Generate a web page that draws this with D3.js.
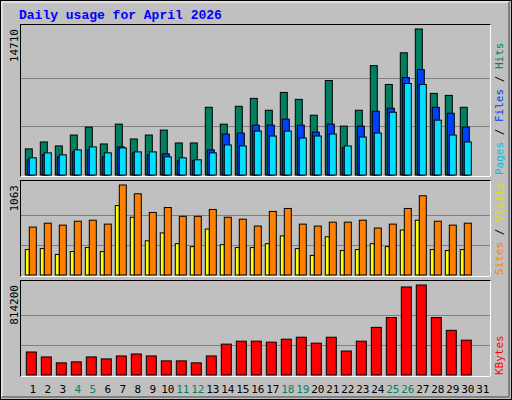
<!DOCTYPE html><html><head><script src="https://cdn.jsdelivr.net/npm/d3@7"></script>
<style>body{margin:0;background:#fff}</style></head><body><svg id="c" width="512" height="400"></svg>
<script>
const days=d3.range(1,32);
const weekend=[4,5,11,12,18,19,25,26];
const hits=[2629,3328,2929,4027,4826,3128,5125,3628,4027,4526,3228,3228,6822,5125,6922,7721,6523,8320,7621,6024,9518,4925,6523,11016,9119,12314,14710,8220,8020,6822];
const files=[1531,2030,1830,2330,2529,1830,2829,2230,2030,2130,1431,1431,2529,4127,4227,5025,5025,5624,5025,4326,5125,2729,4925,6423,6723,9818,10617,6822,6223,4826];
const pages=[1731,2230,2030,2529,2829,2230,2729,2330,2330,1830,1731,1531,2230,3029,2929,4426,3927,4426,3727,3927,4127,2929,3827,4227,6323,9219,9119,5525,4027,3328];
const visits=[566,612,589,635,647,601,1063,959,739,797,693,693,774,682,659,578,751,786,601,578,624,624,647,555,601,786,936,635,589,612];
const sites=[300,312,243,277,324,277,820,682,404,497,370,335,543,358,324,324,370,462,312,231,451,289,300,370,335,531,647,300,289,300];
const kbytes=[208000,163400,109900,118900,163400,145600,172300,190200,172300,127800,127800,109900,172300,279300,306100,306100,297200,323900,341700,288200,341700,216900,306100,430900,520000,796400,814200,520000,404100,315000];
const svg=d3.select("#c");
const F="DejaVu Sans Mono, monospace";
svg.append("rect").attr("x",0.5).attr("y",0.5).attr("width",511).attr("height",399).attr("fill","#c0c0c0").attr("stroke","#000");
svg.append("path").attr("d","M2,397V2H509").attr("fill","none").attr("stroke","#fff");
svg.append("path").attr("d","M2,397H509V2").attr("fill","none").attr("stroke","#808080").attr("stroke-width",2);
svg.append("text").attr("x",19).attr("y",19).attr("font-family","Courier New, Liberation Mono, monospace").attr("font-weight","bold").attr("font-size",13).attr("fill","#0000ff").text("Daily usage for April 2026");
const x=d3.scaleLinear().domain([1,2]).range([25.3,40.3]);
function panel(y0,y1,max,label,series,rlabels){
  svg.append("rect").attr("x",20.5).attr("y",y0+0.5).attr("width",470).attr("height",y1-y0).attr("fill","#c0c0c0").attr("stroke","#000");
  svg.append("path").attr("d",`M20.5,${y1+0.5}H490.5V${y0+0.5}`).attr("fill","none").attr("stroke","#fff");
  const top=y0+5,base=y1-1;
  const y=d3.scaleLinear().domain([0,max]).range([base,top]);
  [1/3,2/3].forEach(f=>svg.append("line").attr("x1",21).attr("x2",490).attr("y1",Math.round(y(max*f))+0.5).attr("y2",Math.round(y(max*f))+0.5).attr("stroke","#808080"));
  series.forEach(s=>{
    svg.append("g").selectAll("rect").data(s.data).join("rect")
      .attr("x",(d,i)=>x(i+1)+s.off).attr("width",s.w)
      .attr("y",d=>y(d)).attr("height",d=>base-y(d))
      .attr("fill",s.color).attr("stroke","#000");
  });
  svg.append("text").attr("transform",`translate(18,${top})rotate(-90)`).attr("text-anchor","end")
    .attr("font-family",F).attr("font-size",11).text(label);
  const t=svg.append("text").attr("transform",`translate(503,${y1-1})rotate(-90)`).attr("font-family",F).attr("font-size",11);
  rlabels.forEach((r,i)=>{ if(i) t.append("tspan").attr("fill","#000").text("/"); t.append("tspan").attr("fill",r[1]).text(r[0]);});
}
panel(24,176,14710,"14710",[
 {data:hits,color:"#008060",off:0,w:7},
 {data:files,color:"#0040ff",off:2,w:7},
 {data:pages,color:"#00e0ff",off:4,w:7}],[["Pages ","#00c0e0"],[" Files ","#0040ff"],[" Hits","#008060"]]);
panel(180,276,1063,"1063",[
 {data:sites,color:"#ffff00",off:0,w:4},
 {data:visits,color:"#ff8000",off:4,w:7}],[["Sites ","#ff8000"],[" Visits","#e0e000"]]);
panel(280,376,814200,"814200",[
 {data:kbytes,color:"#ff0000",off:1,w:10}],[["KBytes","#ff0000"]]);
svg.append("g").selectAll("text").data(days).join("text")
 .attr("x",d=>x(d)+7.5).attr("y",393).attr("text-anchor","middle")
 .attr("font-family",F).attr("font-size",11)
 .attr("fill",d=>weekend.includes(d)?"#008060":"#000").text(d=>d);
</script></body></html>
